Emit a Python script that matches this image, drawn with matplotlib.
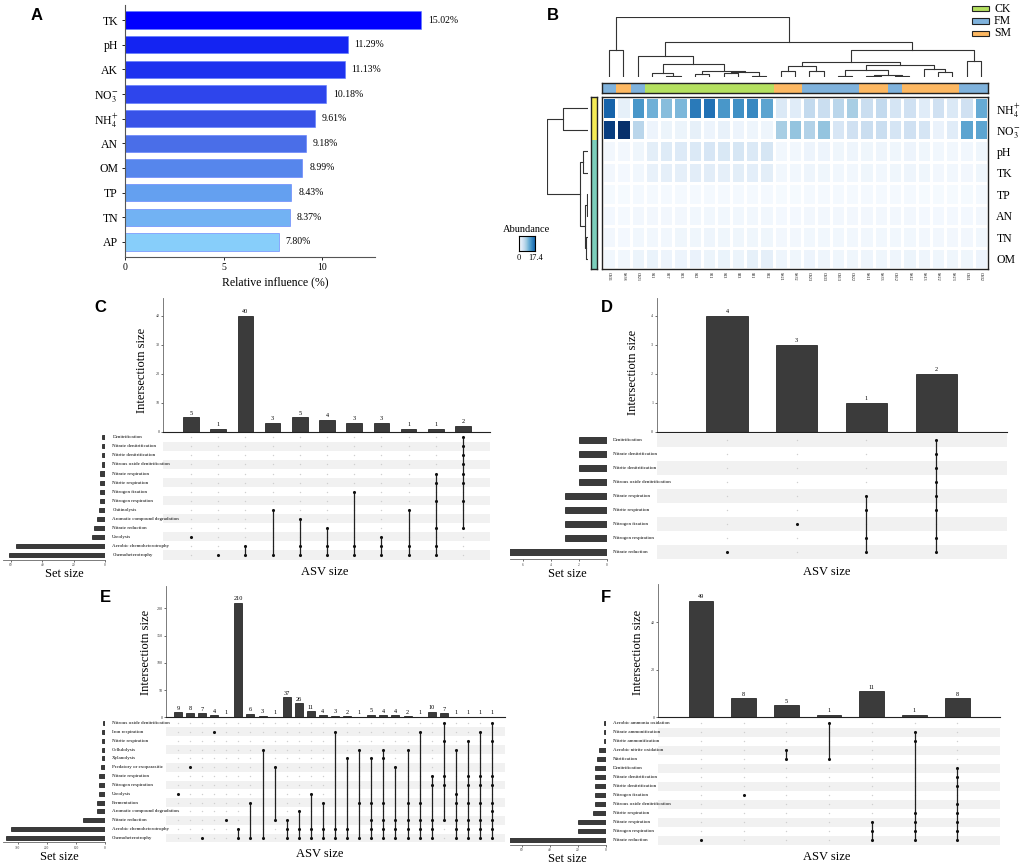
import numpy as np
import matplotlib
matplotlib.use("Agg")
import matplotlib.pyplot as plt
import matplotlib.transforms as mtrans
from matplotlib.patches import Rectangle

plt.rcParams['font.family'] = ['Liberation Serif', 'DejaVu Serif']
plt.rcParams['mathtext.fontset'] = 'stix'

W, H = 1021, 864
fig = plt.figure(figsize=(W / 100, H / 100), dpi=100)


def box(x0, y0, x1, y1):
    # axes from pixel corners (top-left origin)
    return fig.add_axes([x0 / W, 1 - y1 / H, (x1 - x0) / W, (y1 - y0) / H])


# ---------------- data ----------------
# A: relative influence
a_labels = ['TK', 'pH', 'AK', r'NO$_3^{-}$', r'NH$_4^{+}$', 'AN', 'OM', 'TP', 'TN', 'AP']
a_values = [15.02, 11.29, 11.13, 10.18, 9.61, 9.18, 8.99, 8.43, 8.37, 7.80]
a_colors = ['#0000ff', '#1424f2', '#1e32ef', '#2e45ec', '#3852e8', '#4a6ee8',
            '#5686ec', '#64a0f0', '#72b2f3', '#87cefa']

# B: heatmap
b_rows = [r'NH$_4^{+}$', r'NO$_3^{-}$', 'pH', 'TK', 'TP', 'AN', 'TN', 'OM']
b_row_groups = [0, 0, 1, 1, 1, 1, 1, 1]
b_cols = ['CS31', 'SS38', 'CS21', 'S11', 'S27', 'S23', 'S12', 'S21', 'S13', 'S33',
          'S31', 'S22', 'SS21', 'SS32', 'CS23', 'CS33', 'CS13', 'CS22', 'SS11', 'SS33',
          'CS12', 'SS12', 'SS13', 'SS22', 'SS23', 'CS11', 'CS32']
b_groups = ['FM', 'SM', 'FM', 'CK', 'CK', 'CK', 'CK', 'CK', 'CK', 'CK', 'CK', 'CK',
            'SM', 'SM', 'FM', 'FM', 'FM', 'FM', 'SM', 'SM', 'FM', 'SM', 'SM', 'SM',
            'SM', 'FM', 'FM']
b_nh4 = [14.0, 1.5, 10.5, 8.5, 7.5, 8.0, 12.5, 13.0, 10.5, 11.0, 11.5, 9.5, 2.5, 2.0,
         4.5, 4.0, 5.0, 6.0, 4.0, 4.5, 3.0, 3.5, 2.0, 3.5, 2.5, 3.5, 9.0]
b_no3 = [16.5, 17.4, 5.0, 0.9, 1.0, 1.0, 1.5, 0.9, 1.3, 0.9, 0.8, 0.8, 6.0, 7.0,
         5.5, 7.0, 2.8, 3.5, 4.0, 4.0, 3.0, 3.5, 3.0, 1.2, 2.0, 9.5, 9.5]
b_ph = [0.5, 0.5, 0.7, 1.8, 2.2, 2.3, 2.5, 2.8, 2.6, 2.9, 2.5, 2.9, 0.6, 0.6,
        0.9, 0.9, 0.7, 0.8, 0.7, 0.8, 0.7, 0.9, 0.7, 0.6, 0.6, 0.6, 0.7]
b_tk = [0.5, 0.4, 0.6, 1.3, 1.6, 1.6, 1.9, 1.9, 1.6, 1.8, 1.7, 1.8, 0.6, 0.6,
        0.8, 0.7, 0.6, 0.6, 0.7, 0.6, 0.7, 0.8, 0.7, 0.5, 0.6, 0.5, 0.7]
b_tp = [0.2, 0.2, 0.3, 0.3, 0.3, 0.3, 0.3, 0.3, 0.3, 0.3, 0.3, 0.3, 0.2, 0.2,
        0.3, 0.3, 0.3, 0.3, 0.3, 0.3, 0.3, 0.3, 0.2, 0.2, 0.2, 0.2, 0.3]
b_an = [0.4, 0.3, 0.5, 0.5, 0.5, 0.5, 0.6, 0.6, 0.6, 0.6, 0.6, 0.6, 0.4, 0.4,
        0.5, 0.5, 0.5, 0.5, 0.5, 0.5, 0.5, 0.5, 0.4, 0.4, 0.4, 0.4, 0.5]
b_tn = [0.5, 0.4, 0.6, 0.6, 0.6, 0.7, 0.7, 0.8, 0.7, 0.7, 0.7, 0.7, 0.5, 0.5,
        0.6, 0.6, 0.6, 0.6, 0.6, 0.6, 0.6, 0.6, 0.5, 0.5, 0.5, 0.5, 0.6]
b_om = [0.6, 0.6, 1.0, 1.1, 0.9, 0.9, 1.2, 1.0, 1.1, 1.0, 1.5, 1.6, 0.8, 0.7,
        0.9, 0.8, 0.7, 0.7, 0.8, 0.7, 0.8, 1.0, 0.8, 0.7, 0.7, 0.7, 0.9]
b_max = 17.4
# dendrograms as [left, right, height]
col_tree = [[0, 1, 0.456],
            [[2, [[3, [4, 5, 0.022], 0.06],
                  [[6, 7, 0.056], [[8, 9, 0.067], [10, 11, 0.022], 0.078], 0.106],
                  0.217], 0.344],
             [[[[12, 13, 0.094], [14, 15, 0.106], 0.178],
               [[[16, 17, 0.022], [[18, 19, 0.022], [20, 21, 0.022], 0.039], 0.122],
                [22, [23, 24, 0.078], 0.139], 0.194], 0.25],
              [25, 26, 0.272], 0.444],
             0.578],
            1.0]
row_tree = [[0, 1, 0.62], [[2, 3, 0.136], [[4, 5, 0.03], [6, 7, 0.05], 0.08], 0.2], 1.0]

# C
c_sets = ['Denitrification', 'Nitrate denitrification', 'Nitrite denitrification',
          'Nitrous oxide denitrification', 'Nitrate respiration', 'Nitrite respiration',
          'Nitrogen fixation', 'Nitrogen respiration', 'Chitinolysis',
          'Aromatic compound degradation', 'Nitrate reduction', 'Ureolysis',
          'Aerobic chemoheterotrophy', 'Chemoheterotrophy']
c_sizes = [5, 1, 40, 3, 5, 4, 3, 3, 1, 1, 2]
c_members = [[11], [13], [12, 13], [8, 13], [9, 12, 13], [10, 12, 13], [6, 12, 13],
             [11, 12, 13], [8, 12, 13], [4, 5, 7, 10, 12, 13], [0, 1, 2, 3, 4, 5, 7, 10]]

# D
d_sets = ['Denitrification', 'Nitrate denitrification', 'Nitrite denitrification',
          'Nitrous oxide denitrification', 'Nitrate respiration', 'Nitrite respiration',
          'Nitrogen fixation', 'Nitrogen respiration', 'Nitrate reduction']
d_sizes = [4, 3, 1, 2]
d_members = [[8], [6], [4, 5, 7, 8], [0, 1, 2, 3, 4, 5, 7, 8]]

# E
e_sets = ['Nitrous oxide denitrification', 'Iron respiration', 'Nitrite respiration',
          'Cellulolysis', 'Xylanolysis', 'Predatory or exoparasitic', 'Nitrate respiration',
          'Nitrogen respiration', 'Ureolysis', 'Fermentation',
          'Aromatic compound degradation', 'Nitrate reduction',
          'Aerobic chemoheterotrophy', 'Chemoheterotrophy']
e_sizes = [9, 8, 7, 4, 1, 210, 6, 3, 1, 37, 26, 11, 4, 3, 2, 1, 5, 4, 4, 2, 1, 10, 7,
           1, 1, 1, 1]
e_members = [[8], [5], [13], [1], [11], [12, 13], [9, 13], [3, 13], [5, 11],
             [11, 12, 13], [10, 12, 13], [8, 12, 13], [9, 12, 13], [1, 12, 13],
             [4, 12, 13], [3, 9, 13], [4, 9, 11, 12, 13], [3, 4, 9, 11, 12, 13],
             [5, 11, 12, 13], [3, 9, 11, 12, 13], [1, 9, 11, 12, 13], [6, 7, 11, 12, 13],
             [0, 2, 6, 7, 11], [3, 8, 9, 11, 12, 13], [2, 6, 7, 9, 11, 12, 13],
             [1, 6, 7, 9, 11, 12, 13], [0, 2, 6, 7, 9, 10, 11, 12, 13]]

# F
f_sets = ['Aerobic ammonia oxidation', 'Nitrate ammonification', 'Nitrite ammonification',
          'Aerobic nitrite oxidation', 'Nitrification', 'Denitrification',
          'Nitrate denitrification', 'Nitrite denitrification', 'Nitrogen fixation',
          'Nitrous oxide denitrification', 'Nitrite respiration', 'Nitrate respiration',
          'Nitrogen respiration', 'Nitrate reduction']
f_sizes = [49, 8, 5, 1, 11, 1, 8]
f_members = [[13], [8], [3, 4], [0, 4], [11, 12, 13], [1, 2, 10, 11, 12, 13],
             [5, 6, 7, 9, 10, 11, 12, 13]]

# overlay for free text
ov = fig.add_axes([0, 0, 1, 1])
ov.set_xlim(0, W)
ov.set_ylim(H, 0)
ov.axis('off')
ov.set_zorder(10)

# ---------------- A ----------------
ax = box(125, 5, 375, 257)
ya = np.arange(len(a_values))
ax.barh(ya, a_values, height=0.7, color=a_colors, edgecolor='#5a78ff', lw=0.4, clip_on=False)
for y, v in zip(ya, a_values):
    ax.text(v + 0.35, y, f'{v:.2f}%', va='center', ha='left', fontsize=7)
ax.set_xlim(0, 12.67)
ax.set_ylim(9.61, -0.61)
ax.set_yticks(ya, a_labels, fontsize=8.5)
ax.set_xticks([0, 5, 10])
ax.tick_params(axis='x', labelsize=7, length=2, width=0.6, pad=2)
ax.tick_params(axis='y', length=2, width=0.6, pad=3)
for s in ['top', 'right']:
    ax.spines[s].set_visible(False)
for s in ['left', 'bottom']:
    ax.spines[s].set_color('#555555')
    ax.spines[s].set_linewidth(0.8)
ov.text(275, 282, 'Relative influence (%)', ha='center', va='center', fontsize=8.5)

# ---------------- B ----------------
group_colors = {'CK': '#b4e060', 'FM': '#7fb2dc', 'SM': '#fdb862'}
row_group_colors = ['#f4ea55', '#7ccfbc']
hm = np.array([b_nh4, b_no3, b_ph, b_tk, b_tp, b_an, b_tn, b_om])
nr, nc = hm.shape

hx = box(602, 97.3, 988, 269.3)
hx.pcolormesh(np.arange(nc + 1), np.arange(nr + 1), hm, cmap='Blues', vmin=0, vmax=b_max,
              edgecolors='white', linewidth=0.8)
hx.set_xlim(0, nc)
hx.set_ylim(nr, 0)
hx.yaxis.tick_right()
hx.set_yticks(np.arange(nr) + 0.5, b_rows, fontsize=8.5)
hx.set_xticks(np.arange(nc) + 0.5, b_cols, rotation=270, fontsize=3)
hx.tick_params(length=0)
hx.tick_params(axis='y', pad=6)
hx.tick_params(axis='x', pad=2)
for s in hx.spines.values():
    s.set_linewidth(1.0)
    s.set_color('#222222')

cb = box(602, 82.7, 988, 93.3)
cb.bar(np.arange(nc), 1, width=1, align='edge', color=[group_colors[g] for g in b_groups])
cb.set_xlim(0, nc)
cb.set_ylim(0, 1)
cb.set_xticks([])
cb.set_yticks([])
for s in cb.spines.values():
    s.set_linewidth(1.0)
    s.set_color('#222222')

rb = box(590.7, 97.3, 597.3, 269.3)
rb.barh(np.arange(nr), 1, height=1, align='edge',
        color=[row_group_colors[g] for g in b_row_groups])
rb.set_ylim(nr, 0)
rb.set_xlim(0, 1)
rb.set_xticks([])
rb.set_yticks([])
for s in rb.spines.values():
    s.set_linewidth(1.0)
    s.set_color('#222222')


def draw_tree(axis, node, vertical):
    if isinstance(node, int):
        return node + 0.5, 0.0
    p1, h1 = draw_tree(axis, node[0], vertical)
    p2, h2 = draw_tree(axis, node[1], vertical)
    h = node[2]
    pos = [p1, p1, p2, p2]
    hts = [h1, h, h, h2]
    if vertical:
        axis.plot(pos, hts, color='#333333', lw=0.8)
    else:
        axis.plot(hts, pos, color='#333333', lw=0.8)
    return (p1 + p2) / 2, h


cd = box(602, 17, 988, 77)
draw_tree(cd, col_tree, True)
cd.set_xlim(0, nc)
cd.set_ylim(0, 1)
cd.axis('off')

rd = box(546.7, 97.3, 588.3, 269.3)
draw_tree(rd, row_tree, False)
rd.set_xlim(1, 0)
rd.set_ylim(nr, 0)
rd.axis('off')

# group legend
for i, g in enumerate(['CK', 'FM', 'SM']):
    yc = 8.5 + i * 12.5
    ov.add_patch(Rectangle((972, yc - 2.8), 17, 5.6, facecolor=group_colors[g],
                           edgecolor='#222222', lw=0.8))
    ov.text(994, yc, g, ha='left', va='center', fontsize=8.5)

# abundance colour key
ov.text(527, 229, 'Abundance', ha='center', va='center', fontsize=7.5)
ck = box(519, 236, 535, 251)
ck.imshow(np.linspace(0, 1, 60).reshape(1, -1), cmap='Blues', aspect='auto', vmin=0, vmax=1.25)
ck.set_xticks([])
ck.set_yticks([])
for s in ck.spines.values():
    s.set_linewidth(0.8)
ov.text(519, 258, '0', ha='center', va='center', fontsize=6)
ov.text(536, 258, '17.4', ha='center', va='center', fontsize=6)


# ---------------- UpSet panels ----------------
def upset(sets, sizes, members, bar_box, mat_box, set_box, first_px, col_px,
          ymax, yticks, setmax, setticks, bar_w, set_h, label_x):
    nrow = len(sets)
    xs = np.arange(len(sizes))
    # column positions in data units from the pixel spacing
    xlim = (-(first_px - bar_box[0]) / col_px, (bar_box[2] - first_px) / col_px)

    bx = box(*bar_box)
    bx.bar(xs, sizes, width=bar_w, color='#3b3b3b', edgecolor='#111111', lw=0.5)
    for xi, v in zip(xs, sizes):
        bx.text(xi, v + ymax * 0.012, str(v), ha='center', va='bottom', fontsize=4.5)
    bx.set_xlim(*xlim)
    bx.set_ylim(0, ymax)
    bx.set_xticks([])
    bx.set_yticks(yticks)
    bx.tick_params(axis='y', labelsize=3, length=1.5, width=0.5, pad=1, colors='#333333')
    for s in ['top', 'right']:
        bx.spines[s].set_visible(False)
    bx.spines['left'].set_color('#666666')
    bx.spines['left'].set_linewidth(0.6)
    bx.spines['bottom'].set_color('#222222')
    bx.spines['bottom'].set_linewidth(0.8)

    mx = box(*mat_box)
    for r in range(nrow):
        if (nrow - 1 - r) % 2 == 0:
            mx.axhspan(r - 0.5, r + 0.5, color='#f1f1f1', lw=0)
    for j, m in enumerate(members):
        mx.scatter([j] * nrow, range(nrow), s=1.0, color='#cfcfcf', lw=0, zorder=2)
        mx.plot([j, j], [min(m), max(m)], color='#222222', lw=0.9, zorder=3)
        mx.scatter([j] * len(m), m, s=5, color='#111111', lw=0, zorder=4)
    mx.set_xlim(*xlim)
    mx.set_ylim(nrow - 0.5, -0.5)
    mx.axis('off')
    tr = mtrans.blended_transform_factory(mx.transAxes, mx.transData)
    lx = (label_x - mat_box[0]) / (mat_box[2] - mat_box[0])
    for r, name in enumerate(sets):
        mx.text(lx, r, name, transform=tr, ha='left', va='center', fontsize=3.6, clip_on=False)

    set_sizes = [sum(v for v, m in zip(sizes, members) if r in m) for r in range(nrow)]
    sx = box(*set_box)
    sx.barh(range(nrow), set_sizes, height=set_h, color='#3b3b3b', edgecolor='#111111', lw=0.5)
    sx.set_xlim(setmax, 0)
    sx.set_ylim(nrow - 0.5, -0.5)
    sx.set_yticks([])
    sx.set_xticks(setticks)
    sx.tick_params(axis='x', labelsize=2.5, length=1.5, width=0.5, pad=1, colors='#333333')
    for s in ['top', 'right', 'left']:
        sx.spines[s].set_visible(False)
    sx.spines['bottom'].set_color('#666666')
    sx.spines['bottom'].set_linewidth(0.6)


# C
upset(c_sets, c_sizes, c_members, (163.3, 298.3, 490, 431.7), (163.3, 432.8, 490, 559.5),
      (3, 432.8, 105, 559.5), 191, 27.2, 46, [0, 10, 20, 30, 40], 65, [0, 20, 40, 60],
      0.58, 0.45, 112.3)
# D
upset(d_sets, d_sizes, d_members, (656.7, 298.3, 1006.7, 431.7), (656.7, 433.3, 1006.7, 559.3),
      (510, 433.3, 606.7, 559.3), 727, 69.7, 4.6, [0, 1, 2, 3, 4], 6.93, [0, 2, 4, 6],
      0.59, 0.4, 612.7)
# E
upset(e_sets, e_sizes, e_members, (166, 586, 505, 717.3), (166, 718.6, 505, 842.4),
      (3, 718.6, 105, 842.4), 178, 12.08, 241, [0, 50, 100, 150, 200], 350,
      [0, 100, 200, 300], 0.66, 0.45, 111.7)
# F
upset(f_sets, f_sizes, f_members, (658.3, 584, 1000, 717.3), (658.3, 718.8, 1000, 844.5),
      (510, 718.8, 605.7, 844.5), 701, 42.7, 56, [0, 20, 40], 68.6, [0, 20, 40, 60],
      0.58, 0.45, 612.7)

# axis titles of the upset panels
for (sx_, sy_), (ax_, ay_), (yx, yy) in [((64, 574), (325, 572), (142, 370)),
                                         ((567, 574), (827, 572), (633, 372)),
                                         ((59, 857), (320, 854), (146, 652)),
                                         ((567, 859), (827, 857), (638, 652))]:
    ov.text(sx_, sy_, 'Set size', ha='center', va='center', fontsize=9)
    ov.text(ax_, ay_, 'ASV size', ha='center', va='center', fontsize=9)
    ov.text(yx, yy, 'Intersectiotn size', ha='center', va='center', rotation=90, fontsize=9)

# panel letters
for letter, (lx_, ly_) in zip('ABCDEF', [(37, 15), (553, 15), (100, 307), (607, 307),
                                         (105, 597), (606, 597)]):
    ov.text(lx_, ly_, letter, ha='center', va='center', fontsize=12, fontweight='bold',
            family=['Liberation Sans', 'DejaVu Sans'])

fig.savefig('out.png', dpi=100)
